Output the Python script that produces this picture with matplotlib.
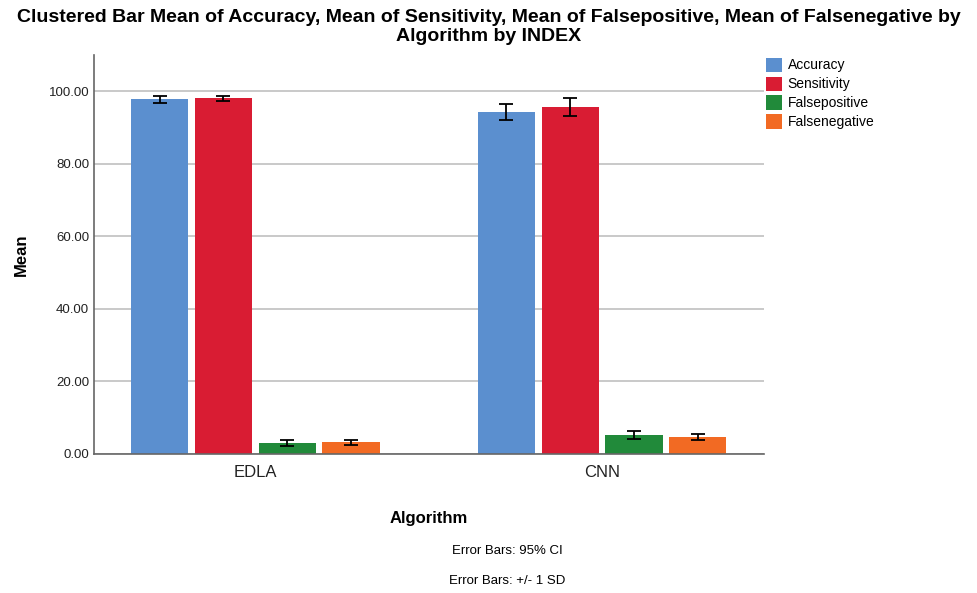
import numpy as np
import matplotlib.pyplot as plt

algorithms = ['EDLA', 'CNN']
measures = ['Accuracy', 'Sensitivity', 'Falsepositive', 'Falsenegative']
means = {
    'Accuracy': [97.8, 94.3],
    'Sensitivity': [98.1, 95.7],
    'Falsepositive': [3.0, 5.3],
    'Falsenegative': [3.2, 4.7],
}
errs = {
    'Accuracy': [0.9, 2.3],
    'Sensitivity': [0.7, 2.5],
    'Falsepositive': [0.8, 1.1],
    'Falsenegative': [0.7, 0.8],
}
colors = ['#5B8FCF', '#D91C33', '#218A3A', '#F26A23']
yticks = [0, 20, 40, 60, 80, 100]

plt.rcParams['font.family'] = ['Liberation Sans', 'DejaVu Sans']

fig = plt.figure(figsize=(9.77, 5.93), dpi=100)
ax = fig.add_axes([94 / 977, 1 - 454 / 593, 670 / 977, 399 / 593])

x = np.arange(len(algorithms))
step = 0.184
width = 0.165
for i, m in enumerate(measures):
    pos = x + (i - 1.5) * step
    ax.bar(pos, means[m], width, color=colors[i], label=m, zorder=2)
    ax.errorbar(pos, means[m], yerr=errs[m], fmt='none', ecolor='black',
                elinewidth=1.3, capsize=5, capthick=1.3, zorder=3)

ax.set_xlim(-0.465, 1.467)
ax.set_ylim(0, 110)
ax.set_yticks(yticks)
ax.set_yticklabels(['%.2f' % v for v in yticks], fontsize=9.5)
ax.set_xticks(x)
ax.set_xticklabels(algorithms, fontsize=12)
ax.tick_params(axis='both', length=0, colors='#222222')
ax.tick_params(axis='x', pad=8)
ax.yaxis.grid(True, color='#c0c0c0', linewidth=1.2, zorder=0)
ax.set_axisbelow(True)
for s in ['top', 'right']:
    ax.spines[s].set_visible(False)
for s in ['left', 'bottom']:
    ax.spines[s].set_color('#666666')
    ax.spines[s].set_linewidth(1.2)

ax.set_ylabel('Mean', fontsize=12, fontweight='bold', labelpad=14)
ax.set_xlabel('Algorithm', fontsize=12, fontweight='bold', labelpad=22)

fig.text(0.5, 1 - 27 / 593, 'Clustered Bar Mean of Accuracy, Mean of Sensitivity, Mean of Falsepositive, Mean of Falsenegative by\nAlgorithm by INDEX',
         ha='center', va='center', fontsize=14, fontweight='bold', linespacing=1.15)

fig.legend(loc='upper left', bbox_to_anchor=(760 / 977, 1 - 52 / 593), frameon=False,
           fontsize=10, handlelength=1.2, handleheight=1.2, handletextpad=0.4,
           labelspacing=0.3, borderaxespad=0)

fig.text(507 / 977, 1 - 551 / 593, 'Error Bars: 95% CI', ha='center', va='center', fontsize=9.5)
fig.text(507 / 977, 1 - 581 / 593, 'Error Bars: +/- 1 SD', ha='center', va='center', fontsize=9.5)

fig.savefig('out.png', dpi=100)
